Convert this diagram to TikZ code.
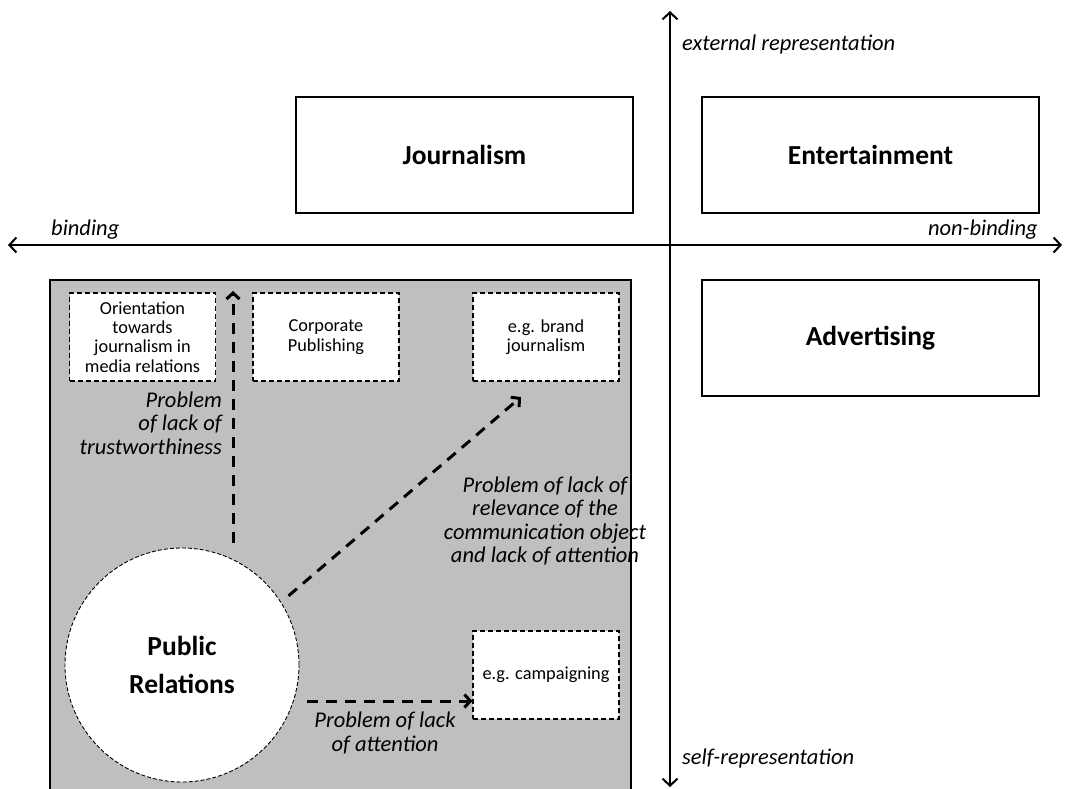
\documentclass[tikz,border=0pt]{standalone}
\usepackage{fontspec}
\setmainfont{Carlito}
\usetikzlibrary{arrows.meta}
\definecolor{prgray}{RGB}{191,191,191}
\begin{document}
\begin{tikzpicture}[x=1pt,y=-1pt,
  bigbox/.style={draw, line width=2pt, fill=white, minimum width=337pt, minimum height=116pt, inner sep=0pt, font=\fontsize{27.5}{33}\selectfont\bfseries},
  smallbox/.style={draw, line width=1.1pt, dash pattern=on 5pt off 3pt, fill=white, minimum width=146pt, minimum height=88pt, inner sep=0pt, align=center, font=\fontsize{18.3}{19.3}\selectfont},
  lbl/.style={inner sep=0pt, font=\fontsize{22.5}{23.5}\selectfont\itshape},
  axis/.style={line width=2pt, {Straight Barb[length=7pt,width=15pt]}-{Straight Barb[length=7pt,width=15pt]}},
  dasharrow/.style={line width=3pt, dash pattern=on 11pt off 8pt, -{Straight Barb[length=6pt,width=13pt]}}
]
\useasboundingbox (0,0) rectangle (1066,789);
\fill[white] (0,0) rectangle (1066,789);
% PR region
\fill[prgray] (50,280) rectangle (631,800);
\draw[line width=2.5pt] (50,800) -- (50,280) -- (631,280) -- (631,800);
% axes
\coordinate (vtop) at (670,11);
\coordinate (vbot) at (670,787);
\coordinate (hleft) at (8,245);
\coordinate (hright) at (1062,245);
\draw[axis] (vbot) -- (vtop);
\draw[axis] (hleft) -- (hright);
\node[lbl, anchor=west] (extrep) at (682,45) {external representation};
\node[lbl, anchor=west] (selfrep) at (682,758) {self-representation};
\node[lbl, anchor=west] (bind) at (51,230) {binding};
\node[lbl, anchor=east] (nonbind) at (1038,230) {non-binding};
% big boxes
\node[bigbox] (journ) at (464.5,155) {Journalism};
\node[bigbox] (ent) at (870.5,155) {Entertainment};
\node[bigbox] (adv) at (870.5,338) {Advertising};
% small boxes
\node[smallbox] (orient) at (142.5,337) {Orientation\\towards\\journalism in\\media relations};
\node[smallbox] (corp) at (326,337) {Corporate\\Publishing};
\node[smallbox] (brand) at (546,337) {e.g. brand\\journalism};
\node[smallbox] (camp) at (546,675) {e.g. campaigning};
% circle
\node[circle, draw, line width=0.9pt, dash pattern=on 4pt off 2pt, fill=white, minimum size=234pt, inner sep=0pt, align=center, font=\fontsize{27.5}{38}\selectfont\bfseries] (pr) at (182,665) {Public\\Relations};
% arrows
\coordinate (trustend) at (233,291);
\coordinate (relend) at (521,397);
\draw[dasharrow] (pr.north -| trustend) ++(0,-5) -- (trustend);
\draw[dasharrow] (pr.center) ++(-33:127) -- (relend);
\draw[dasharrow] (pr.east |- 0,701) ++(8,0) -- (camp.west |- 0,701);
% labels
\node[lbl, align=right, anchor=east] (ltrust) at (222,423) {Problem\\of lack of\\trustworthiness};
\node[lbl, align=center] (lrel) at (545,521) {Problem of lack of\\relevance of the\\communication object\\and lack of attention};
\node[lbl, align=center] (latt) at (385,733) {Problem of lack\\of attention};
\end{tikzpicture}
\end{document}
